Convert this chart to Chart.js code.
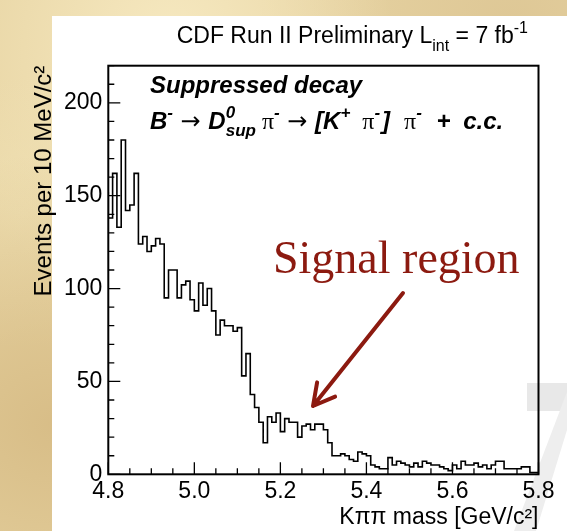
<!DOCTYPE html>
<html>
<head>
<meta charset="utf-8">
<script src="https://cdn.jsdelivr.net/npm/chart.js@4"></script>
<style>
    body { margin: 0; }
    #page {
        position: relative; width: 567px; height: 531px; overflow: hidden;
        background:
            radial-gradient(ellipse at 10% 80%, rgba(196,160,100,0.45), rgba(0,0,0,0) 45%),
            radial-gradient(ellipse at 4% 40%, rgba(240,225,180,0.7), rgba(0,0,0,0) 30%),
            radial-gradient(ellipse at 30% 10%, rgba(250,238,200,0.8), rgba(0,0,0,0) 40%),
            radial-gradient(ellipse at 90% 5%, rgba(215,190,140,0.6), rgba(0,0,0,0) 35%),
            #e8d5a4;
    }
    #panel { position: absolute; left: 52px; top: 16px; right: 0; bottom: 0; background: #fff; }
    #greyBox { position: absolute; left: 527px; top: 383px; width: 40px; height: 28px; background: #e8e8e8; }
    #greySlash {
        position: absolute; left: 0; top: 0; width: 567px; height: 531px; background: #eeeeee;
        clip-path: polygon(514px 531px, 536px 531px, 567px 430px, 567px 392px);
    }
    #chart { position: absolute; left: 0; top: 0; }
</style>
</head>
<body>
<div id="page">
    <div id="panel"></div>
    <div id="greyBox"></div>
    <div id="greySlash"></div>
    <canvas id="chart" width="567" height="531"></canvas>
</div>
<script>
// Histogram: K pi pi invariant mass, 10 MeV bins from 4.8 to 5.8 GeV/c^2
const binLow = 4.8;
const binWidth = 0.01;
const counts = [
    152, 138, 162, 133, 180, 142, 145, 162, 124, 128,
    120, 123, 127, 124,  95, 110, 110,  95, 102, 104,
     94,  88, 103,  91, 100,  88,  75,  83,  80,  80,
     77,  79,  53,  65,  43,  36,  28,  17,  31,  28,
     33,  23,  30,  28,  28,  20,  26,  27,  24,  27,
     27,  24,  17,  10,  10,  11,  10,   8,   7,  12,
     11,  10,   5,   4,   3,   3,   9,   5,   7,   6,
      5,   4,   6,   4,   7,   6,   5,   5,   4,   3,
      2,   5,   3,   7,   5,   5,   6,   4,   5,   3,
      5,   7,   7,   3,   3,   3,   3,   4,   4,   1
];
const xLabelStep = 0.2;   // labelled x ticks
const yLabelStep = 50;    // labelled y ticks

// step outline: one point per low edge, plus the closing upper edge
const histPoints = counts.map((c, i) => ({ x: binLow + i * binWidth, y: c }));
histPoints.push({ x: binLow + counts.length * binWidth, y: counts[counts.length - 1] });

const SANS = '"Liberation Sans", Arial, Helvetica, sans-serif';
const SERIF = '"Liberation Serif", "Times New Roman", serif';
const RED = '#8c1a10';

function isMultiple(v, step) {
    const r = v / step;
    return Math.abs(r - Math.round(r)) < 1e-6;
}

// draws a run of text pieces (sub/superscripts) starting at x
function drawParts(ctx, x, y, parts, alignRight) {
    const widthOf = p => {
        ctx.font = p.font;
        let w = ctx.measureText(p.text).width;
        if (p.under) {
            ctx.font = p.under.font;
            w = Math.max(w, ctx.measureText(p.under.text).width);
        }
        return w + (p.gap || 0);
    };
    if (alignRight) {
        x -= parts.reduce((s, p) => s + widthOf(p), 0);
    }
    ctx.textAlign = 'left';
    ctx.textBaseline = 'alphabetic';
    parts.forEach(p => {
        const w = widthOf(p);
        ctx.font = p.font;
        ctx.fillText(p.text, x, y + (p.dy || 0));
        if (p.under) {
            ctx.font = p.under.font;
            ctx.fillText(p.under.text, x, y + p.under.dy);
        }
        x += w;
    });
}

// ROOT-like frame with inward ticks, plus the text annotations
const decorPlugin = {
    id: 'decor',
    afterDatasetsDraw(chart) {
        const ctx = chart.ctx;
        const area = chart.chartArea;
        const xs = chart.scales.x;
        const ys = chart.scales.y;
        ctx.save();
        ctx.strokeStyle = '#000';
        ctx.lineWidth = 1.3;
        ctx.beginPath();
        xs.ticks.forEach(t => {
            const px = xs.getPixelForValue(t.value);
            const len = isMultiple(t.value - binLow, xLabelStep) ? 12 : 6;
            ctx.moveTo(px, area.bottom);
            ctx.lineTo(px, area.bottom - len);
        });
        ys.ticks.forEach(t => {
            const py = ys.getPixelForValue(t.value);
            const len = isMultiple(t.value, yLabelStep) ? 12 : 6;
            ctx.moveTo(area.left, py);
            ctx.lineTo(area.left + len, py);
        });
        ctx.stroke();
        ctx.lineWidth = 2;
        ctx.strokeRect(area.left, area.top, area.right - area.left, area.bottom - area.top);

        // header
        ctx.fillStyle = '#000';
        const big = '23px ' + SANS, small = '16px ' + SANS;
        drawParts(ctx, 528, 43, [
            { text: 'CDF Run II Preliminary L', font: big },
            { text: 'int', font: small, dy: 8 },
            { text: ' = 7 fb', font: big },
            { text: '-1', font: small, dy: -10 }
        ], true);

        // decay labels
        const bi = 'italic bold 24px ' + SANS;
        const biS = 'italic bold 17px ' + SANS;
        const arrowF = '24px "DejaVu Sans", ' + SANS;
        const piF = '24px ' + SERIF;
        drawParts(ctx, 150, 93, [{ text: 'Suppressed decay', font: bi }]);
        drawParts(ctx, 150, 129, [
            { text: 'B', font: bi },
            { text: '-', font: biS, dy: -11 },
            { text: ' \u2192 ', font: arrowF },
            { text: 'D', font: bi },
            { text: '0', font: biS, dy: -11, under: { text: 'sup', font: biS, dy: 7 } },
            { text: ' \u03c0', font: piF },
            { text: '-', font: biS, dy: -11 },
            { text: ' \u2192 ', font: arrowF },
            { text: '[K', font: bi },
            { text: '+', font: biS, dy: -11, gap: 6 },
            { text: ' \u03c0', font: piF },
            { text: '-', font: biS, dy: -11, gap: 2 },
            { text: ']', font: bi, gap: 14 },
            { text: '\u03c0', font: piF },
            { text: '-', font: biS, dy: -11, gap: 8 },
            { text: ' +', font: bi, gap: 6 },
            { text: ' c.c.', font: bi }
        ]);

        // signal region call-out
        ctx.fillStyle = RED;
        drawParts(ctx, 273, 273, [{ text: 'Signal region', font: '46px ' + SERIF }]);
        const tip = { x: 313, y: 406 }, from = { x: 403, y: 293 };
        const ang = Math.atan2(from.y - tip.y, from.x - tip.x);
        ctx.strokeStyle = RED;
        ctx.lineWidth = 4;
        ctx.lineCap = 'round';
        ctx.lineJoin = 'round';
        ctx.beginPath();
        ctx.moveTo(from.x, from.y);
        ctx.lineTo(tip.x, tip.y);
        [-0.5, 0.5].forEach(d => {
            ctx.moveTo(tip.x, tip.y);
            ctx.lineTo(tip.x + 24 * Math.cos(ang + d), tip.y + 24 * Math.sin(ang + d));
        });
        ctx.stroke();
        ctx.restore();
    }
};

new Chart(document.getElementById('chart').getContext('2d'), {
    type: 'line',
    data: {
        datasets: [{
            data: histPoints,
            stepped: 'after',
            borderColor: '#000',
            borderWidth: 1.6,
            pointRadius: 0,
            fill: false
        }]
    },
    options: {
        responsive: false,
        animation: false,
        layout: { padding: { left: 0, top: 65.7, right: 28.5, bottom: 0 } },
        plugins: { legend: { display: false }, tooltip: { enabled: false } },
        scales: {
            x: {
                type: 'linear',
                min: 4.8,
                max: 5.8,
                afterFit: scale => { scale.height = 56.7; },
                grid: { display: false, drawTicks: false },
                border: { display: false },
                ticks: {
                    stepSize: 0.05,
                    autoSkip: false,
                    maxRotation: 0,
                    padding: 4,
                    color: '#000',
                    font: { family: SANS, size: 23 },
                    callback: v => isMultiple(v - binLow, xLabelStep) ? v.toFixed(1) : ''
                },
                title: {
                    display: true,
                    text: 'K\u03c0\u03c0 mass [GeV/c\u00b2]',
                    align: 'end',
                    color: '#000',
                    font: { family: SANS, size: 23 },
                    padding: { top: 0, bottom: 0 }
                }
            },
            y: {
                min: 0,
                max: 220,
                afterFit: scale => { scale.width = 108.3; },
                grid: { display: false, drawTicks: false },
                border: { display: false },
                ticks: {
                    stepSize: 10,
                    autoSkip: false,
                    padding: 6,
                    color: '#000',
                    font: { family: SANS, size: 23 },
                    callback: v => isMultiple(v, yLabelStep) ? String(v) : ''
                },
                title: {
                    display: true,
                    text: 'Events per 10 MeV/c\u00b2',
                    align: 'end',
                    color: '#000',
                    font: { family: SANS, size: 24 },
                    padding: { top: 30, bottom: 0 }
                }
            }
        }
    },
    plugins: [decorPlugin]
});
</script>
</body>
</html>
